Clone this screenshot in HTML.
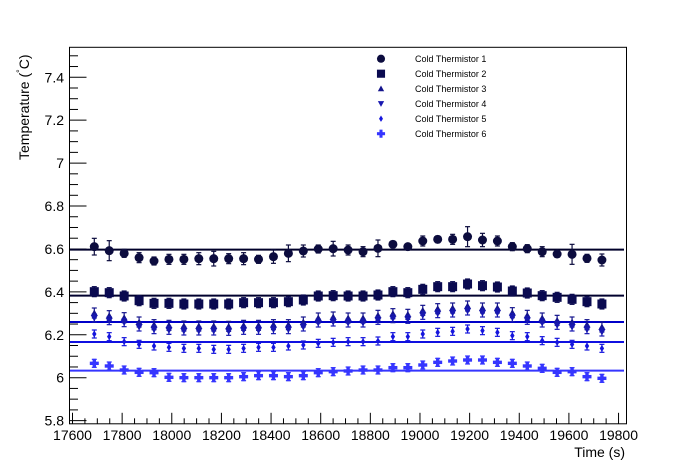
<!DOCTYPE html>
<html><head><meta charset="utf-8"><style>
body{margin:0;background:#fff;}
svg{display:block;font-family:"Liberation Sans",Arial,sans-serif;}
</style></head><body>
<svg id="s" width="696" height="472" xmlns="http://www.w3.org/2000/svg">
<rect x="0" y="0" width="696" height="472" fill="#fff"/>
<rect x="69.5" y="47.3" width="557" height="376.5" fill="none" stroke="#000" stroke-width="1"/>
<g id="ax"></g>
<g id="data"></g>
<text x="625" y="457" font-size="14" text-anchor="end">Time (s)</text>
<text transform="translate(29,160) rotate(-90)" font-size="14" text-anchor="start">Temperature (<tspan font-size="9" dy="-6">°</tspan><tspan dy="6">C)</tspan></text>
<g id="leg" font-size="9"></g>
</svg>
<script>
const NS="http://www.w3.org/2000/svg";
function el(p,t,a){const e=document.createElementNS(NS,t);for(const k in a)e.setAttribute(k,a[k]);p.appendChild(e);return e;}
const ax=document.getElementById('ax');
const X=t=>72.5+(t-17600)*0.2482;
const Y=v=>377.7-(v-6)*214.6;
for(let t=17600;t<=19800;t+=50){const x=X(t);const maj=(t%200===0);
 el(ax,'line',{x1:x,x2:x,y1:423.8,y2:423.8-(maj?11:5.5),stroke:'#000'});
 if(maj){const tx=el(ax,'text',{x:x,y:440,'font-size':14,'text-anchor':'middle'});tx.textContent=t;}}
for(let i=0;;i++){const v=5.8+i*0.05;if(v>7.54)break;const y=Y(v);const maj=(i%4===0);
 el(ax,'line',{x1:69.5,x2:69.5+(maj?17:8.5),y1:y,y2:y,stroke:'#000'});
 if(maj){const tx=el(ax,'text',{x:64,y:y+5,'font-size':14,'text-anchor':'end'});tx.textContent=(Math.round(v*10)/10).toString();}}
const S=[
{c:'#0c0c3e',lc:'#00002a',ly:659,m:'circle',
 y:[650,662,670,683,693,688,688,686,686,686,686,688,680,670,663,657,656,660,665,655,643,650,633,628,628,620,630,633,650,656,665,672,673,685,690],
 e:[25,30,12,15,12,15,15,18,22,15,18,12,20,25,18,12,22,15,15,25,10,8,15,10,15,30,20,15,12,12,15,10,30,12,18]},
{c:'#0a0a50',lc:'#00002e',ly:797,m:'square',
 y:[785,788,798,812,820,820,822,822,822,822,818,818,818,815,810,798,797,798,798,795,785,788,778,770,770,762,767,771,783,789,797,802,808,815,822],e:null,ee:15},
{c:'#14148c',lc:'#0000c8',ly:876,m:'tup',off:-3,
 y:[858,866,872,885,893,895,897,897,897,898,895,895,893,893,885,873,870,873,873,865,860,862,850,845,843,837,843,843,857,865,873,880,885,893,900],e:null,ee:15},
{c:'#1818b0',lc:null,m:'tdn',off:2,
 y:[858,866,872,885,893,895,897,897,897,898,895,895,893,893,885,873,870,873,873,865,860,862,850,845,843,837,843,843,857,865,873,880,885,893,900],e:null,ee:12},
{c:'#1515dd',lc:'#1010e0',ly:936,m:'diam',
 y:[912,920,935,943,948,952,955,955,958,958,955,952,952,948,945,940,937,935,935,933,920,920,912,907,904,897,902,907,917,920,932,937,943,948,955],e:null,ee:12},
{c:'#3535ff',lc:'#3535ff',ly:1022,m:'cross',
 y:[1000,1008,1020,1027,1028,1042,1043,1043,1043,1043,1040,1037,1037,1040,1037,1028,1025,1023,1020,1020,1013,1013,1005,997,993,990,990,997,1000,1008,1015,1027,1025,1040,1045],e:null,ee:12}
];
const d=document.getElementById('data');
function marker(g,m,x,y,c,sc){sc=sc||1;
 if(m==='circle')el(g,'circle',{cx:x,cy:y,r:4.5*sc,fill:c});
 else if(m==='square')el(g,'rect',{x:x-4.5*sc,y:y-4.5*sc,width:9*sc,height:9*sc,fill:c});
 else if(m==='tup')el(g,'polygon',{points:`${x-3.5*sc},${y+2.8*sc} ${x+3.5*sc},${y+2.8*sc} ${x},${y-3.5*sc}`,fill:c});
 else if(m==='tdn')el(g,'polygon',{points:`${x-3.5*sc},${y-2.8*sc} ${x+3.5*sc},${y-2.8*sc} ${x},${y+3.5*sc}`,fill:c});
 else if(m==='diam')el(g,'polygon',{points:`${x-2.2*sc},${y} ${x},${y-3.5*sc} ${x+2.2*sc},${y} ${x},${y+3.5*sc}`,fill:c});
 else if(m==='cross'){el(g,'rect',{x:x-4.5*sc,y:y-1.7*sc,width:9*sc,height:3.4*sc,fill:c});el(g,'rect',{x:x-1.7*sc,y:y-4.5*sc,width:3.4*sc,height:9*sc,fill:c});}
}
S.forEach(s=>{if(s.lc){const y=30+s.ly/3;el(d,'line',{x1:70,x2:624,y1:y,y2:y,stroke:s.lc,'stroke-width':2});}});
S.forEach(s=>{
 s.y.forEach((zy,i)=>{const x=94.3+i*14.93;const y=30+zy/3+(s.off||0);const e=(s.e?s.e[i]:s.ee)/3;
  el(d,'line',{x1:x,x2:x,y1:y-e,y2:y+e,stroke:s.c,'stroke-width':1.2});
  el(d,'line',{x1:x-2.5,x2:x+2.5,y1:y-e,y2:y-e,stroke:s.c,'stroke-width':1.2});
  el(d,'line',{x1:x-2.5,x2:x+2.5,y1:y+e,y2:y+e,stroke:s.c,'stroke-width':1.2});
  marker(d,s.m,x,y,s.c);
 });
});
const lg=document.getElementById('leg');
S.forEach((s,i)=>{const y=58.7+i*15;marker(lg,s.m,381,y,s.c,0.9);
 const t=el(lg,'text',{x:415,y:y+3.3});t.textContent='Cold Thermistor '+(i+1);});
</script>
</body></html>
